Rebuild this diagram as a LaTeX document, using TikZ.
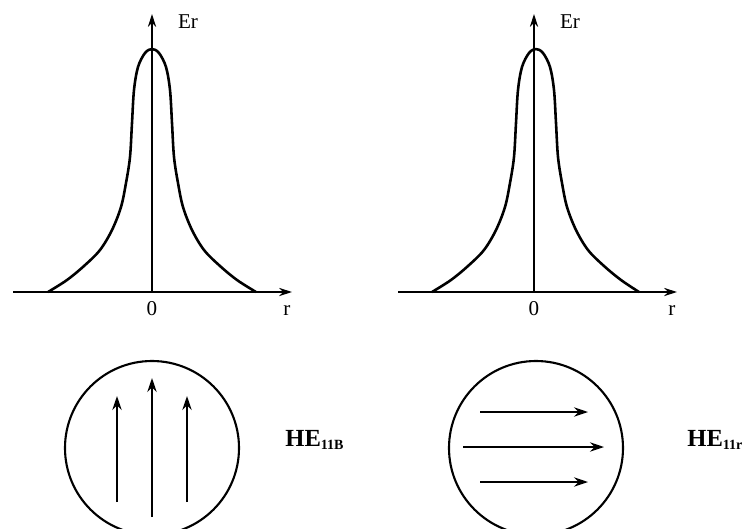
\documentclass[tikz,border=0pt]{standalone}
\usepackage{fontspec}
\setmainfont{Liberation Serif}
\usetikzlibrary{arrows.meta}

\begin{document}
\begin{tikzpicture}[x=0.03cm, y=-0.03cm,
    axis/.style = {line width=1.1pt, -{Stealth[length=11pt, width=7pt]}},
    field/.style = {line width=1.4pt, -{Stealth[length=12pt, width=8pt]}},
    curve/.style = {line width=2.2pt, line join=round},
    lab/.style = {font=\fontsize{18}{20}\selectfont, inner sep=1pt},
    mode/.style = {font=\fontsize{21}{24}\selectfont\bfseries, inner sep=1pt}]
    \useasboundingbox (0,0) rectangle (745,529);

    % left plot
    \draw[axis] (152,292) -- (152,14);
    \draw[axis] (13,292) -- (292,292);
    \draw[curve] plot[smooth, tension=0.55] coordinates {
        (48,292) (67,280) (84,266) (100,250) (112,230) (121,207)
        (126,183) (130,157) (132,123) (134,90) (138,67) (145,53)
        (152,49) (159,53) (166,67) (170,90) (172,123) (174,157)
        (178,183) (183,207) (192,230) (204,250) (220,266) (237,280)
        (256,292)};
    \node[lab] (er1) at (188,22) {Er};
    \node[lab] (zero1) at (152,309) {0};
    \node[lab] (r1) at (287,311) {r};

    % right plot
    \draw[axis] (534,292) -- (534,14);
    \draw[axis] (398,292) -- (677,292);
    \draw[curve] plot[smooth, tension=0.55] coordinates {
        (432,292) (451,280) (468,266) (484,250) (496,230) (505,207)
        (510,183) (514,157) (516,123) (518,90) (522,67) (529,53)
        (536,49) (543,53) (550,67) (554,90) (556,123) (558,157)
        (562,183) (567,207) (576,230) (588,250) (604,266) (621,280)
        (639,292)};
    \node[lab] (er2) at (570,22) {Er};
    \node[lab] (zero2) at (534,309) {0};
    \node[lab] (r2) at (672,311) {r};

    % fiber cross sections
    \draw[line width=1.8pt] (152,448) circle (87);
    \draw[field] (117,502) -- (117,396);
    \draw[field] (152,517) -- (152,378);
    \draw[field] (187,502) -- (187,396);
    \node[mode, anchor=west] (he1) at (284,440) {HE\textsubscript{\fontsize{12}{12}\selectfont 11B}};

    \draw[line width=1.8pt] (536,448) circle (87);
    \draw[field] (480,412) -- (588,412);
    \draw[field] (463,447) -- (604,447);
    \draw[field] (480,482) -- (588,482);
    \node[mode, anchor=west] (he2) at (686,440) {HE\textsubscript{\fontsize{12}{12}\selectfont 11r}};
\end{tikzpicture}
\end{document}
